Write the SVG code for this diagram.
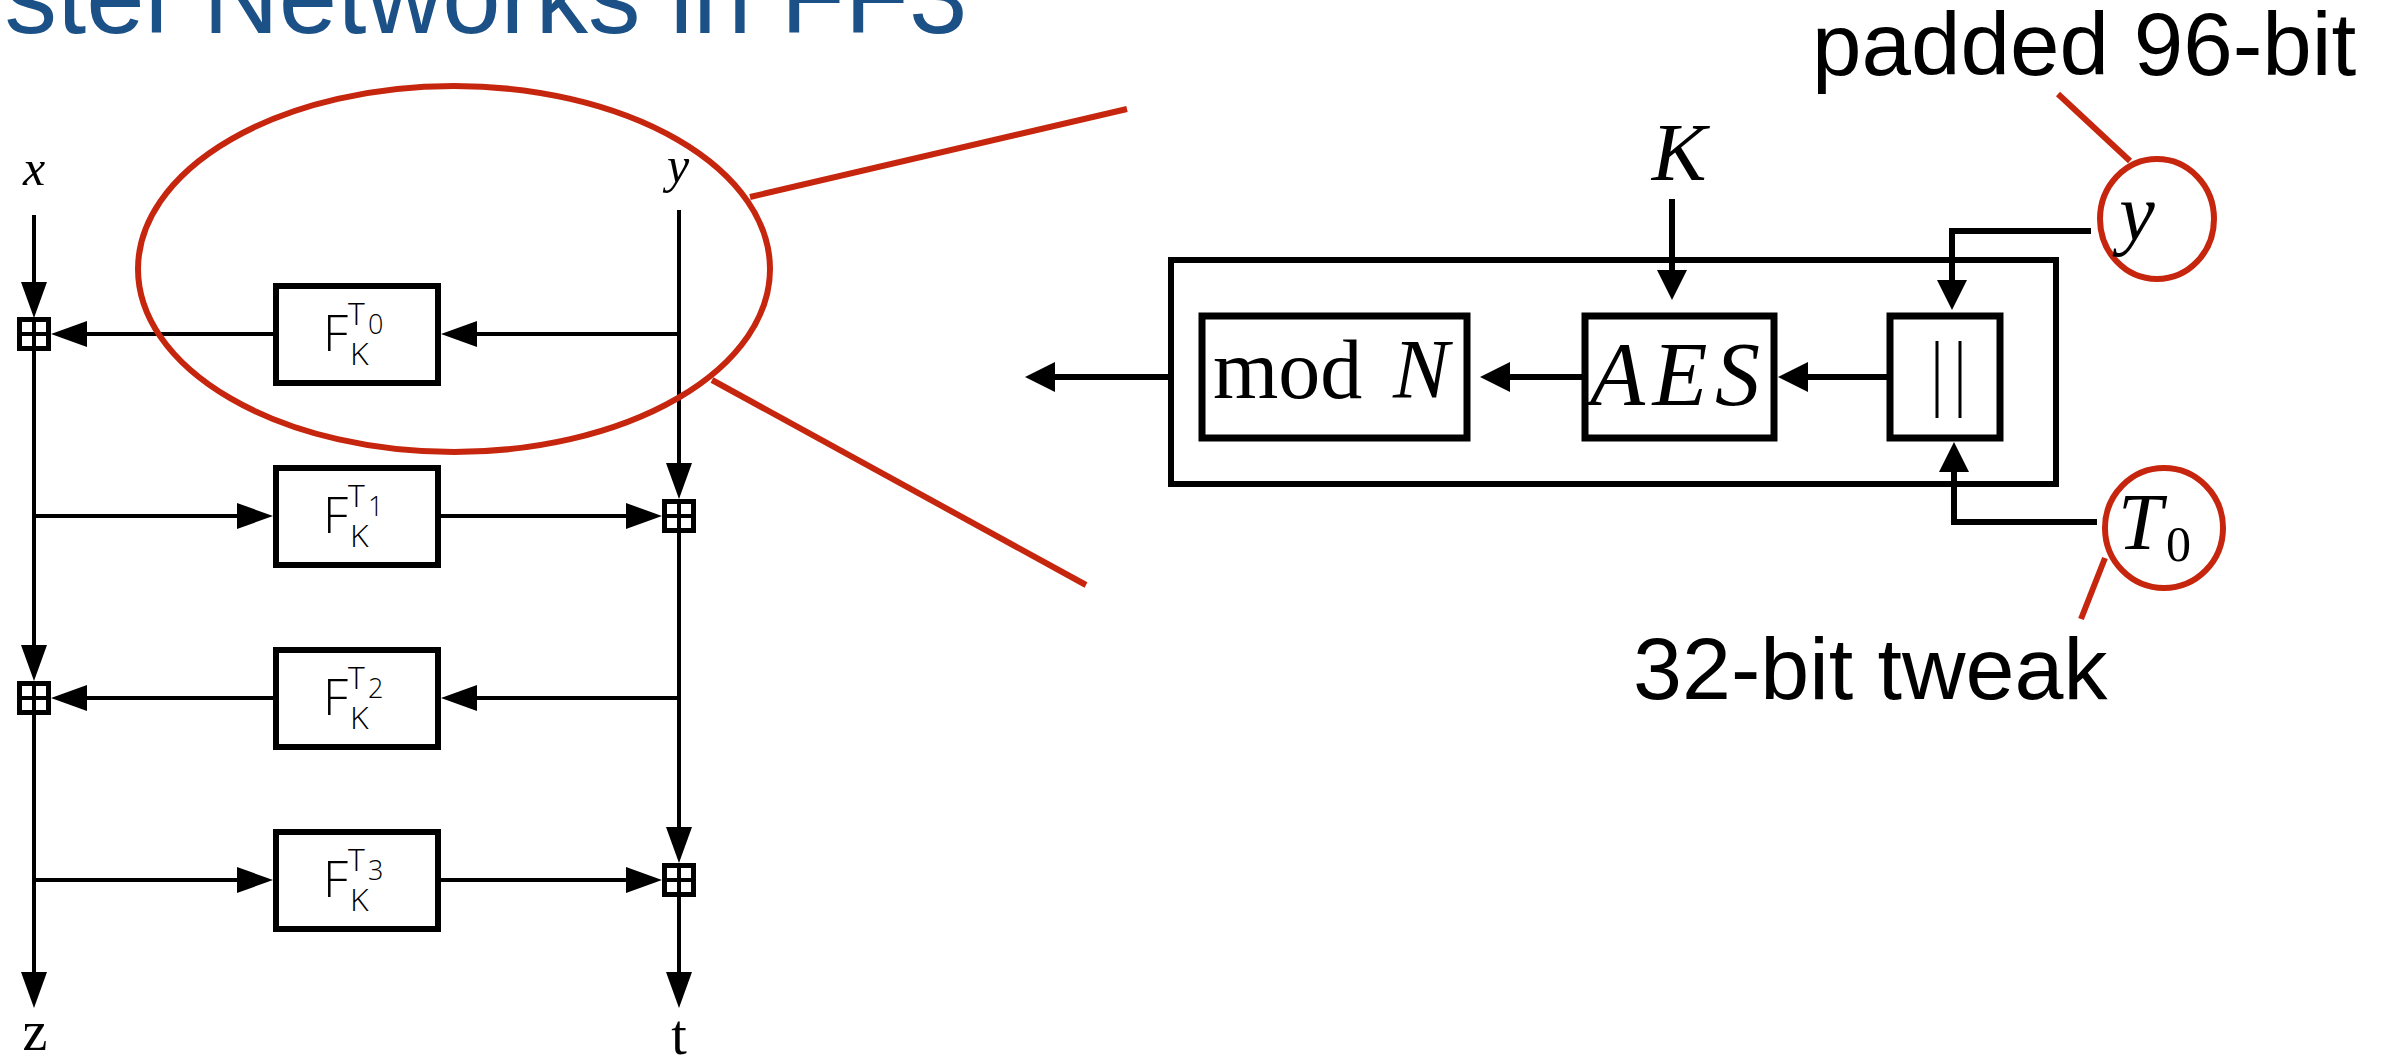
<svg xmlns="http://www.w3.org/2000/svg" width="2406" height="1060" viewBox="0 0 2406 1060">
<style>
.title{font-family:"Liberation Sans",Arial,sans-serif;font-size:105px;fill:#1B5187}
.ln{stroke:#000;stroke-width:4;fill:none}
.lnR{stroke:#000;stroke-width:6;fill:none}
.box{fill:#fff;stroke:#000;stroke-width:6}
.boxR{fill:#fff;stroke:#000;stroke-width:7}
.red{stroke:#C6260E;stroke-width:6;fill:none}
.fl{font-family:"Open Sans","Liberation Sans",sans-serif;font-weight:300;fill:#000}
.math{font-family:"Liberation Serif","Times New Roman",serif;fill:#000}
.it{font-style:italic}
.note{font-family:"Liberation Sans",Arial,sans-serif;fill:#000}
</style>
<defs>
<marker id="aL" viewBox="0 0 36 26" markerWidth="36" markerHeight="26" refX="0" refY="13" orient="auto" markerUnits="userSpaceOnUse"><path d="M0,0 L36,13 L0,26 Z" fill="#000"/></marker>
<marker id="aR" viewBox="0 0 30 30" markerWidth="30" markerHeight="30" refX="0" refY="15" orient="auto" markerUnits="userSpaceOnUse"><path d="M0,0 L30,15 L0,30 Z" fill="#000"/></marker>
<g id="xor"><rect x="-17" y="-17" width="34" height="34" fill="#000"/><rect x="-12" y="-12" width="10" height="10" fill="#fff"/><rect x="2" y="-12" width="10" height="10" fill="#fff"/><rect x="-12" y="2" width="10" height="10" fill="#fff"/><rect x="2" y="2" width="10" height="10" fill="#fff"/></g>
</defs>
<rect width="2406" height="1060" fill="#fff"/>

<g id="title">
<text class="title" y="33"><tspan x="168" text-anchor="end">stel</tspan><tspan x="203">Networks in FF3</tspan></text>
</g>

<g id="connectors">
<path class="ln" d="M34,215 V282" marker-end="url(#aL)"/>
<path class="ln" d="M34,351 V645" marker-end="url(#aL)"/>
<path class="ln" d="M34,715 V972" marker-end="url(#aL)"/>
<path class="ln" d="M34,516 H237" marker-end="url(#aL)"/>
<path class="ln" d="M34,880 H237" marker-end="url(#aL)"/>
<path class="ln" d="M679,210 V463" marker-end="url(#aL)"/>
<path class="ln" d="M679,533 V827" marker-end="url(#aL)"/>
<path class="ln" d="M679,897 V972" marker-end="url(#aL)"/>
<path class="ln" d="M679,334 H477" marker-end="url(#aL)"/>
<path class="ln" d="M273,334 H87" marker-end="url(#aL)"/>
<path class="ln" d="M441,516 H626" marker-end="url(#aL)"/>
<path class="ln" d="M679,698 H477" marker-end="url(#aL)"/>
<path class="ln" d="M273,698 H87" marker-end="url(#aL)"/>
<path class="ln" d="M441,880 H626" marker-end="url(#aL)"/>

<path class="lnR" d="M1171,377 H1055" marker-end="url(#aR)"/>
<path class="lnR" d="M1582,377 H1510" marker-end="url(#aR)"/>
<path class="lnR" d="M1887,377 H1808" marker-end="url(#aR)"/>
<path class="lnR" d="M1672,199 V270" marker-end="url(#aR)"/>
<path class="lnR" d="M2091,231 H1952 V280" marker-end="url(#aR)"/>
<path class="lnR" d="M2097,522 H1954 V472" marker-end="url(#aR)"/>
</g>

<g id="label-x"><text class="math it" x="34" y="185" font-size="50" text-anchor="middle">x</text></g>
<g id="label-y"><text class="math it" x="678" y="182" font-size="50" text-anchor="middle">y</text></g>
<g id="label-z"><text class="math" x="35" y="1050" font-size="56" text-anchor="middle">z</text></g>
<g id="label-t"><text class="math" x="679" y="1054" font-size="56" text-anchor="middle">t</text></g>

<g id="xor-l1"><use href="#xor" x="34" y="334"/></g>
<g id="xor-r1"><use href="#xor" x="679" y="516"/></g>
<g id="xor-l2"><use href="#xor" x="34" y="698"/></g>
<g id="xor-r2"><use href="#xor" x="679" y="880"/></g>

<g id="f0"><rect class="box" x="276" y="286" width="162" height="97"/>
<text class="fl" x="323" y="351" font-size="50">F</text><text class="fl" x="350" y="365" font-size="32">K</text><text class="fl" x="348" y="325" font-size="32">T</text><text class="fl" x="368" y="334" font-size="27">0</text></g>
<g id="f1"><rect class="box" x="276" y="468" width="162" height="97"/>
<text class="fl" x="323" y="533" font-size="50">F</text><text class="fl" x="350" y="547" font-size="32">K</text><text class="fl" x="348" y="507" font-size="32">T</text><text class="fl" x="368" y="516" font-size="27">1</text></g>
<g id="f2"><rect class="box" x="276" y="650" width="162" height="97"/>
<text class="fl" x="323" y="715" font-size="50">F</text><text class="fl" x="350" y="729" font-size="32">K</text><text class="fl" x="348" y="689" font-size="32">T</text><text class="fl" x="368" y="698" font-size="27">2</text></g>
<g id="f3"><rect class="box" x="276" y="832" width="162" height="97"/>
<text class="fl" x="323" y="897" font-size="50">F</text><text class="fl" x="350" y="911" font-size="32">K</text><text class="fl" x="348" y="871" font-size="32">T</text><text class="fl" x="368" y="880" font-size="27">3</text></g>

<g id="outer-box"><rect x="1171" y="260" width="885" height="224" fill="none" stroke="#000" stroke-width="6"/></g>
<g id="modn"><rect class="boxR" x="1202" y="316" width="265" height="122"/>
<text class="math" x="1213" y="398" font-size="84">mod <tspan x="1393" font-style="italic">N</tspan></text></g>
<g id="aes"><rect class="boxR" x="1585" y="316" width="189" height="122"/>
<text class="math it" x="1590" y="405" font-size="90" textLength="170" lengthAdjust="spacing">AES</text></g>
<g id="concat"><rect class="boxR" x="1890" y="316" width="110" height="122"/>
<path d="M1937,341 V418 M1960,341 V418" stroke="#000" stroke-width="3"/></g>
<g id="label-K"><text class="math it" x="1679" y="180" font-size="82" text-anchor="middle">K</text></g>

<g id="zoom-ellipse">
<ellipse class="red" cx="454" cy="269" rx="316" ry="183"/>
<path class="red" d="M750,197 L1127,109"/>
<path class="red" d="M712,380 L1086,585"/>
</g>

<g id="input-y"><ellipse class="red" cx="2157" cy="219" rx="57" ry="60"/>
<text class="math it" x="2137" y="240" font-size="80" text-anchor="middle">y</text></g>
<g id="input-t0"><ellipse class="red" cx="2164" cy="528" rx="59" ry="60"/>
<text class="math it" x="2118" y="549" font-size="80">T</text><text class="math" x="2166" y="561" font-size="50">0</text></g>

<g id="note-padded"><text class="note" x="1812" y="75" font-size="89">padded 96-bit</text>
<path class="red" d="M2058,94 L2130,161"/></g>
<g id="note-tweak"><text class="note" x="1633" y="699" font-size="88">32-bit tweak</text>
<path class="red" d="M2105,558 L2081,619"/></g>
</svg>
